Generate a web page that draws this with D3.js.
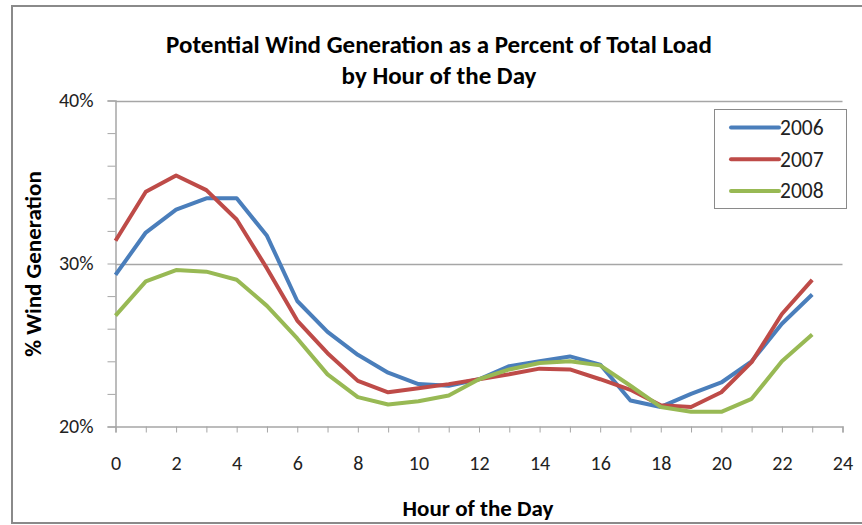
<!DOCTYPE html>
<html lang="en">
<head>
    <meta charset="UTF-8">
    <title>wind-by-hour</title>
    <style>
        body {
            margin: 0;
            background: #fff;
            font-family: Carlito, Lato, "Open Sans", sans-serif;
        }
    </style>
    <script src="https://d3js.org/d3.v7.min.js"></script>
</head>
<body>

<script>

    // data (percent of total load, hour 0..23)
    let hours = d3.range(0, 24)
    let years = ["2006", "2007", "2008"]
    let values2006 = [29.3, 31.9, 33.3, 34.0, 34.0, 31.7, 27.7, 25.8, 24.4, 23.3, 22.6, 22.5,
        22.9, 23.7, 24.0, 24.3, 23.8, 21.6, 21.2, 22.0, 22.7, 24.0, 26.3, 28.1]
    let values2007 = [31.4, 34.4, 35.4, 34.5, 32.7, 29.7, 26.5, 24.5, 22.8, 22.1, 22.35, 22.6,
        22.9, 23.2, 23.55, 23.5, 22.9, 22.25, 21.3, 21.2, 22.1, 23.95, 26.9, 29.0]
    let values2008 = [26.8, 28.9, 29.6, 29.5, 29.0, 27.4, 25.4, 23.2, 21.8, 21.35, 21.55, 21.9,
        22.9, 23.5, 23.9, 24.0, 23.75, 22.5, 21.2, 20.9, 20.9, 21.7, 24.0, 25.65]
    let xTicks = [0, 2, 4, 6, 8, 10, 12, 14, 16, 18, 20, 22, 24]
    let yTicks = [20, 30, 40]
    let yMinorTicks = [20, 22, 24, 26, 28, 30, 32, 34, 36, 38, 40]
    let colors = ["#4a7ebb", "#be4b48", "#98b954"]

    let width = 862
    let height = 525
    let axisColor = "#a6a6a6"
    let textColor = "#222"

    let svg = d3.select("body").append("svg")
        .attr("width", width)
        .attr("height", height)

    // outer chart frame
    svg.append("rect")
        .attr("x", 12).attr("y", 6)
        .attr("width", 870).attr("height", 517)
        .attr("fill", "white")
        .attr("stroke", "#8a8a8a")
        .attr("stroke-width", 2)

    let x = d3.scaleLinear().domain([0, 24]).range([115.5, 842.5])
    let y = d3.scaleLinear().domain([20, 40]).range([426.5, 100.5])

    // title
    let title = svg.append("text")
        .attr("text-anchor", "middle")
        .attr("font-weight", "bold").attr("font-size", 25)
        .attr("fill", "#000")
    title.append("tspan").attr("x", 439).attr("y", 53).text("Potential Wind Generation as a Percent of Total Load")
    title.append("tspan").attr("x", 439).attr("y", 84).text("by Hour of the Day")

    // horizontal gridlines
    svg.append("g")
        .selectAll("line")
        .data(yTicks.filter(d => d > 20))
        .enter()
        .append("line")
        .attr("x1", x(0)).attr("x2", x(24))
        .attr("y1", d => Math.round(y(d)) + 0.5)
        .attr("y2", d => Math.round(y(d)) + 0.5)
        .attr("stroke", axisColor)
        .attr("stroke-width", 1.5)

    // y axis
    let yAxis = d3.axisLeft(y)
        .tickValues(yMinorTicks)
        .tickSize(8)
        .tickFormat(d => yTicks.includes(d) ? d + "%" : "")
        .tickPadding(14)
    let gy = svg.append("g")
        .attr("transform", "translate(" + x(0) + ",0)")
        .call(yAxis)
    gy.select(".domain").attr("stroke", axisColor).attr("stroke-width", 1.5)
    gy.selectAll(".tick line").attr("stroke", axisColor)
    gy.selectAll(".tick text")
        .attr("font-size", 20).attr("fill", textColor)
        .attr("font-family", "Carlito, Lato, sans-serif")

    // x axis
    let xAxis = d3.axisBottom(x)
        .tickValues(d3.range(0, 25))
        .tickSize(6)
        .tickFormat(d => xTicks.includes(d) ? d : "")
        .tickPadding(23)
    let gx = svg.append("g")
        .attr("transform", "translate(0," + y(20) + ")")
        .call(xAxis)
    gx.select(".domain").attr("stroke", axisColor).attr("stroke-width", 1.5)
    gx.selectAll(".tick line").attr("stroke", axisColor)
    gx.selectAll(".tick text")
        .attr("font-size", 20).attr("fill", textColor)
        .attr("font-family", "Carlito, Lato, sans-serif")

    // axis titles
    svg.append("text")
        .attr("x", 478).attr("y", 516)
        .attr("text-anchor", "middle")
        .attr("font-weight", "bold").attr("font-size", 23)
        .text("Hour of the Day")

    svg.append("text")
        .attr("transform", "translate(41,264) rotate(-90)")
        .attr("text-anchor", "middle")
        .attr("font-weight", "bold").attr("font-size", 23)
        .text("% Wind Generation")

    // lines
    let series = [values2006, values2007, values2008]
    let line = d3.line()
        .x((d, i) => x(hours[i]))
        .y(d => y(d))

    svg.append("g")
        .selectAll("path")
        .data(series)
        .enter()
        .append("path")
        .attr("d", d => line(d))
        .attr("fill", "none")
        .attr("stroke", (d, i) => colors[i])
        .attr("stroke-width", 4)
        .attr("stroke-linejoin", "round")

    // legend
    let legend = svg.append("g")
    legend.append("rect")
        .attr("x", 714.5).attr("y", 109.5)
        .attr("width", 132).attr("height", 99)
        .attr("fill", "white")
        .attr("stroke", "#8a8a8a")

    let rows = legend.selectAll("g.row")
        .data(years)
        .enter()
        .append("g")
        .attr("class", "row")
        .attr("transform", (d, i) => "translate(0," + (127.5 + i * 31.7) + ")")
    rows.append("line")
        .attr("x1", 731).attr("x2", 779)
        .attr("stroke", (d, i) => colors[i])
        .attr("stroke-width", 4)
        .attr("stroke-linecap", "round")
    rows.append("text")
        .attr("x", 780).attr("y", 7.5)
        .attr("font-size", 21.5).attr("fill", textColor)
        .text(d => d)

</script>

</body>
</html>
